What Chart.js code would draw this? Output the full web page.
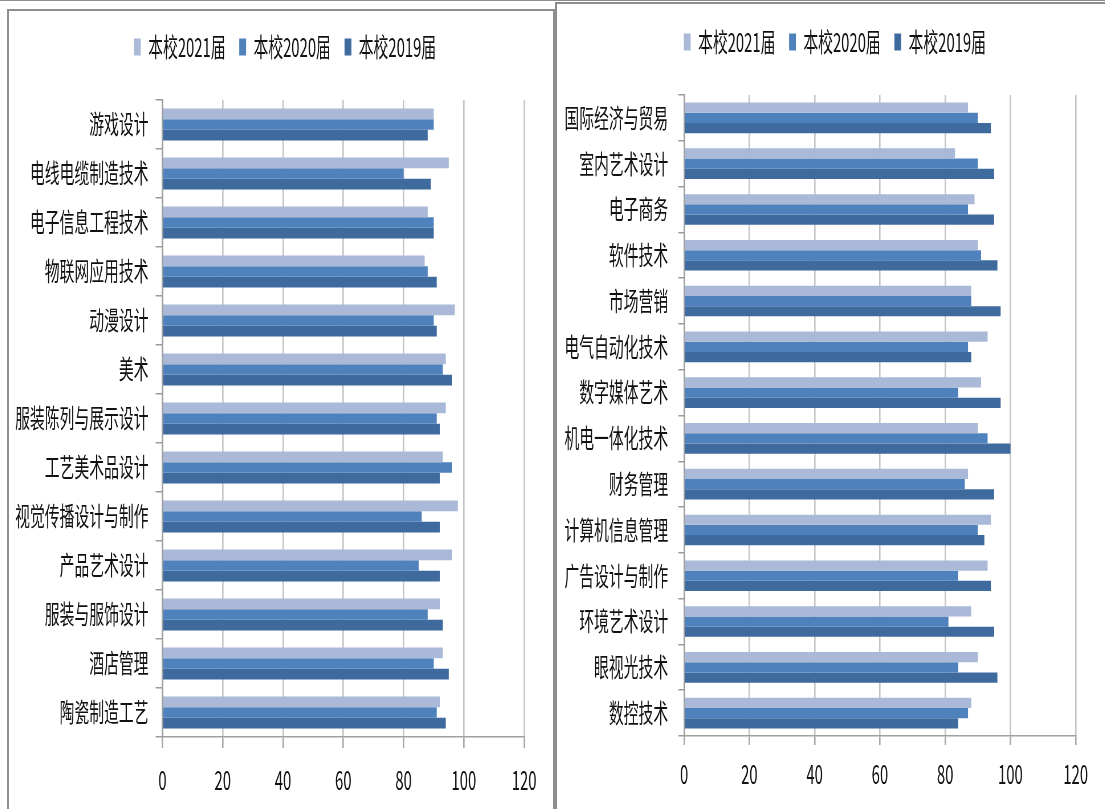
<!DOCTYPE html>
<html>
<head>
<meta charset="utf-8">
<script src="https://cdn.jsdelivr.net/npm/chart.js@4/dist/chart.umd.min.js"></script>
<style>
  body { margin: 0; width: 1105px; height: 809px; overflow: hidden; background: #fff; position: relative; }
  .panel { position: absolute; border: 2px solid #8e8e8e; box-sizing: border-box; }
  .box { position: absolute; transform: scaleX(0.57); transform-origin: 0 0; }
</style>
</head>
<body>
<div class="panel" style="left:0;top:0;width:1105px;height:2px;border-width:1px 0 0 0"></div>
<div class="panel" style="left:7px;top:9px;width:548px;height:830px"></div>
<div class="panel" style="left:555px;top:2px;width:560px;height:830px"></div>
<div class="box" style="left:10px;top:10px;width:949px;height:799px"><canvas id="leftChart"></canvas></div>
<div class="box" style="left:557px;top:5px;width:961px;height:804px"><canvas id="rightChart"></canvas></div>

<script>
// series shared by both charts
const seriesNames = ['本校2021届', '本校2020届', '本校2019届'];
const seriesColors = ['#A9B9D7', '#4F81BD', '#3E6A9E'];
const xTicks = [0, 20, 40, 60, 80, 100, 120];

// left chart
const leftCategories = ['游戏设计', '电线电缆制造技术', '电子信息工程技术', '物联网应用技术', '动漫设计', '美术',
  '服装陈列与展示设计', '工艺美术品设计', '视觉传播设计与制作', '产品艺术设计', '服装与服饰设计', '酒店管理', '陶瓷制造工艺'];
const left2021 = [90, 95, 88, 87, 97, 94, 94, 93, 98, 96, 92, 93, 92];
const left2020 = [90, 80, 90, 88, 90, 93, 91, 96, 86, 85, 88, 90, 91];
const left2019 = [88, 89, 90, 91, 91, 96, 92, 92, 92, 92, 93, 95, 94];

// right chart
const rightCategories = ['国际经济与贸易', '室内艺术设计', '电子商务', '软件技术', '市场营销', '电气自动化技术', '数字媒体艺术',
  '机电一体化技术', '财务管理', '计算机信息管理', '广告设计与制作', '环境艺术设计', '眼视光技术', '数控技术'];
const right2021 = [87, 83, 89, 90, 88, 93, 91, 90, 87, 94, 93, 88, 90, 88];
const right2020 = [90, 90, 87, 91, 88, 87, 84, 93, 86, 90, 84, 81, 84, 87];
const right2019 = [94, 95, 95, 96, 97, 88, 97, 100, 95, 92, 94, 95, 96, 84];

Chart.defaults.font.family = '"Noto Sans CJK SC", sans-serif';

// legend: extra space under it, and a sideways nudge so it sits centred on the panel
const legendTweak = {
  id: 'legendTweak',
  beforeLayout(chart, args, opts) {
    const lg = chart.legend;
    if (lg && !lg._gapPatched) {
      const fit = lg.fit;
      lg.fit = function () { fit.call(this); this.height += opts.extra; };
      lg._gapPatched = true;
    }
  },
  afterLayout(chart, args, opts) {
    const lg = chart.legend;
    if (lg) { lg.left += opts.shift; lg.right += opts.shift; }
  }
};

function makeChart(id, cats, values, cfg) {
  const ctx = document.getElementById(id).getContext('2d');
  return new Chart(ctx, {
    type: 'bar',
    data: {
      labels: cats,
      datasets: values.map((v, i) => ({
        label: seriesNames[i],
        data: v,
        backgroundColor: seriesColors[i],
        borderWidth: 0,
        categoryPercentage: cfg.catPct,
        barPercentage: 1.0
      }))
    },
    options: {
      indexAxis: 'y',
      responsive: true,
      maintainAspectRatio: false,
      animation: false,
      layout: { padding: { left: 0, right: cfg.padR, top: 0, bottom: 0 } },
      scales: {
        x: {
          min: 0,
          max: 120,
          afterBuildTicks(s) { s.ticks = xTicks.map(v => ({ value: v })); },
          afterFit(s) { s.height = cfg.xHeight; },
          ticks: { padding: cfg.padX, color: '#111', font: { size: 26 } },
          grid: { color: '#C4C4C4', lineWidth: 2.6, tickLength: cfg.tickLenX, tickColor: '#A8A8A8' },
          border: { color: '#A0A0A0', width: 1.5 }
        },
        y: {
          afterFit(s) { s.width = cfg.yWidth; },
          ticks: { padding: cfg.padY, color: '#111', font: { size: 26 }, autoSkip: false },
          grid: { drawOnChartArea: false, offset: true, tickLength: cfg.tickLenY, color: '#9A9A9A', lineWidth: 1.5 },
          border: { color: '#A0A0A0', width: 3 }
        }
      },
      plugins: {
        legend: {
          position: 'top',
          labels: { boxWidth: 12, boxHeight: 17, padding: 24, color: '#111', font: { size: 26 } }
        },
        tooltip: { enabled: false },
        legendTweak: { extra: 30, shift: cfg.legendShift }
      }
    },
    plugins: [legendTweak]
  });
}

makeChart('leftChart', leftCategories, [left2021, left2020, left2019], {
  padR: 47, yWidth: 267.5, xHeight: 72, legendShift: 31.5,
  tickLenY: 12, padY: 12.5, tickLenX: 11, padX: 17, catPct: 0.655
});

makeChart('rightChart', rightCategories, [right2021, right2020, right2019], {
  padR: 51, yWidth: 223, xHeight: 73, legendShift: 32.5,
  tickLenY: 10, padY: 18, tickLenX: 9, padX: 13.5, catPct: 0.67
});
</script>
</body>
</html>
